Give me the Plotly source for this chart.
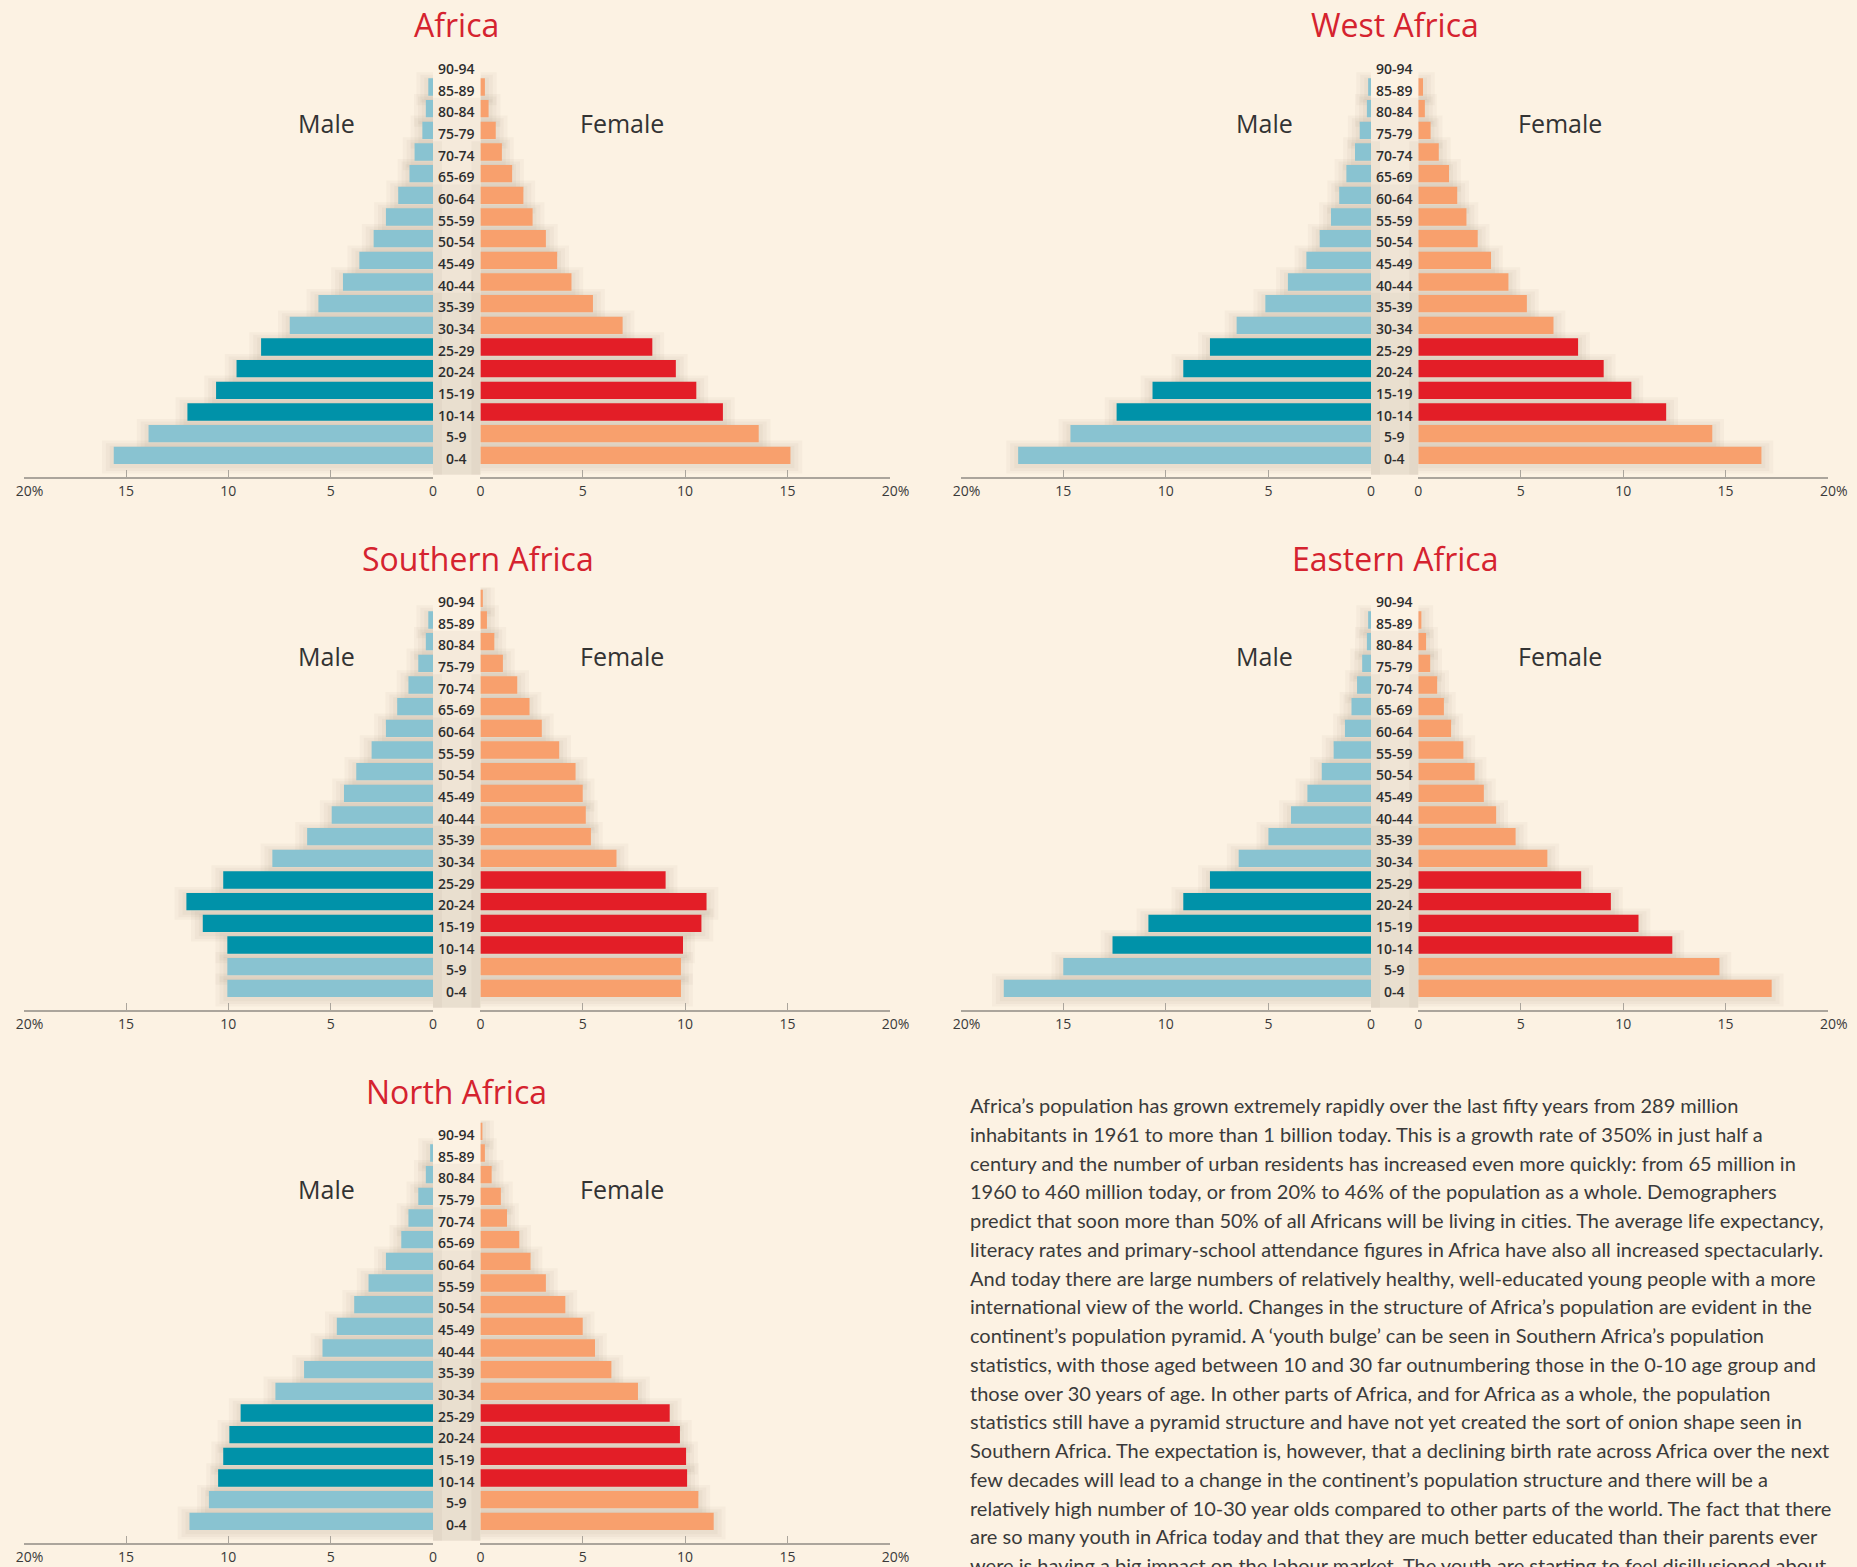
import plotly.graph_objects as go

W, H = 1857, 1567

AGES = ["0-4", "5-9", "10-14", "15-19", "20-24", "25-29", "30-34", "35-39",
        "40-44", "45-49", "50-54", "55-59", "60-64", "65-69", "70-74",
        "75-79", "80-84", "85-89", "90-94"]
HIGHLIGHT_AGES = ["10-14", "15-19", "20-24", "25-29"]

AFRICA_MALE = [15.6, 13.9, 12.0, 10.6, 9.6, 8.4, 7.0, 5.6, 4.4, 3.6, 2.9, 2.3, 1.7, 1.15, 0.9, 0.52, 0.35, 0.23, 0.0]
AFRICA_FEMALE = [15.15, 13.6, 11.85, 10.55, 9.55, 8.4, 6.95, 5.5, 4.45, 3.75, 3.2, 2.55, 2.1, 1.55, 1.05, 0.75, 0.4, 0.22, 0.0]

WEST_MALE = [17.2, 14.65, 12.4, 10.65, 9.15, 7.85, 6.55, 5.15, 4.05, 3.15, 2.5, 1.95, 1.55, 1.2, 0.78, 0.55, 0.2, 0.14, 0.0]
WEST_FEMALE = [16.75, 14.35, 12.1, 10.4, 9.05, 7.8, 6.6, 5.3, 4.4, 3.55, 2.9, 2.35, 1.9, 1.5, 1.0, 0.6, 0.32, 0.23, 0.0]

SOUTH_MALE = [10.05, 10.05, 10.05, 11.25, 12.05, 10.25, 7.85, 6.15, 4.95, 4.35, 3.75, 3.0, 2.3, 1.75, 1.2, 0.72, 0.35, 0.23, 0.0]
SOUTH_FEMALE = [9.8, 9.8, 9.9, 10.8, 11.05, 9.05, 6.65, 5.4, 5.15, 5.0, 4.65, 3.85, 3.0, 2.4, 1.8, 1.1, 0.68, 0.32, 0.12]

EAST_MALE = [17.9, 15.0, 12.6, 10.85, 9.15, 7.85, 6.45, 5.0, 3.9, 3.1, 2.4, 1.82, 1.27, 0.95, 0.68, 0.43, 0.2, 0.14, 0.0]
EAST_FEMALE = [17.25, 14.7, 12.4, 10.75, 9.4, 7.95, 6.3, 4.75, 3.8, 3.2, 2.75, 2.2, 1.6, 1.25, 0.92, 0.58, 0.38, 0.15, 0.0]

NORTH_MALE = [11.9, 10.95, 10.5, 10.25, 9.95, 9.4, 7.7, 6.3, 5.4, 4.7, 3.85, 3.15, 2.3, 1.55, 1.2, 0.72, 0.35, 0.14, 0.0]
NORTH_FEMALE = [11.4, 10.65, 10.1, 10.05, 9.75, 9.25, 7.7, 6.4, 5.6, 5.0, 4.15, 3.2, 2.45, 1.9, 1.3, 1.0, 0.55, 0.22, 0.08]

TICK_VALUES = [0, 5, 10, 15, 20]
TICK_LABELS = ["0", "5", "10", "15", "20%"]

PANEL_TITLES = ["Africa", "West Africa", "Southern Africa", "Eastern Africa", "North Africa"]
PANEL_MALE = [AFRICA_MALE, WEST_MALE, SOUTH_MALE, EAST_MALE, NORTH_MALE]
PANEL_FEMALE = [AFRICA_FEMALE, WEST_FEMALE, SOUTH_FEMALE, EAST_FEMALE, NORTH_FEMALE]

PARAGRAPH = [
    "Africa\u2019s population has grown extremely rapidly over the last fifty years from 289 million",
    "inhabitants in 1961 to more than 1 billion today. This is a growth rate of 350% in just half a",
    "century and the number of urban residents has increased even more quickly: from 65 million in",
    "1960 to 460 million today, or from 20% to 46% of the population as a whole. Demographers",
    "predict that soon more than 50% of all Africans will be living in cities. The average life expectancy,",
    "literacy rates and primary-school attendance figures in Africa have also all increased spectacularly.",
    "And today there are large numbers of relatively healthy, well-educated young people with a more",
    "international view of the world. Changes in the structure of Africa\u2019s population are evident in the",
    "continent\u2019s population pyramid. A \u2018youth bulge\u2019 can be seen in Southern Africa\u2019s population",
    "statistics, with those aged between 10 and 30 far outnumbering those in the 0-10 age group and",
    "those over 30 years of age. In other parts of Africa, and for Africa as a whole, the population",
    "statistics still have a pyramid structure and have not yet created the sort of onion shape seen in",
    "Southern Africa. The expectation is, however, that a declining birth rate across Africa over the next",
    "few decades will lead to a change in the continent\u2019s population structure and there will be a",
    "relatively high number of 10-30 year olds compared to other parts of the world. The fact that there",
    "are so many youth in Africa today and that they are much better educated than their parents ever",
    "were is having a big impact on the labour market. The youth are starting to feel disillusioned about",
]

# ---- styling / layout ----
BG = "#FCF2E3"
MALE_LIGHT, MALE_DARK = "#89C3D1", "#0092A9"
FEMALE_LIGHT, FEMALE_DARK = "#F8A06D", "#E31E27"
TITLE_RED = "#D5232F"
AXIS_GREY = "#ABA59C"
TEXT_DARK = "#2E2E2E"
SHADOW = "rgba(110,90,70,0.045)"

COLS = [(23.7, 433.0, 480.4, 889.7), (960.7, 1371.0, 1418.3, 1828.0)]
PANEL_POS = [(0, 0), (0, 1), (1, 0), (1, 1), (2, 0)]
TITLE_DX = [0, 0, 21, 0, 0]
ROW_TOP, ROW_BOT, ROW_STEP = 54.5, 477.0, 533.0
BAR_W = 0.8


def fx(p):
    return p / W


def fy(p):
    return 1 - p / H


def tick_text(t):
    # centre the number on the tick, let the "%" hang to the right
    if t.endswith("%"):
        return "<span style='color:rgba(0,0,0,0)'>%</span>" + t
    return t


fig = go.Figure()
layout = {}
annotations = []
shapes = []

male_colors = [MALE_DARK if a in HIGHLIGHT_AGES else MALE_LIGHT for a in AGES]
female_colors = [FEMALE_DARK if a in HIGHLIGHT_AGES else FEMALE_LIGHT for a in AGES]

for i in range(5):
    row, col = PANEL_POS[i]
    m0x, m1x, f0x, f1x = COLS[col]
    top = ROW_TOP + ROW_STEP * row
    bot = ROW_BOT + ROW_STEP * row
    xm = f"x{2 * i + 1}"
    xf = f"x{2 * i + 2}"
    yy = f"y{i + 1}"
    xm_key = "xaxis" if i == 0 else f"xaxis{2 * i + 1}"
    xf_key = f"xaxis{2 * i + 2}"
    y_key = "yaxis" if i == 0 else f"yaxis{i + 1}"

    # soft layered shadows behind the bars
    for xs, data in ((xm, PANEL_MALE[i]), (xf, PANEL_FEMALE[i])):
        for k in (1, 2, 3):
            ext = 0.12 * k
            w = BAR_W + 2 * ext
            fig.add_trace(go.Bar(x=[v + ext * 1.6 if v > 0 else 0 for v in data], y=AGES,
                                 orientation="h", xaxis=xs, yaxis=yy,
                                 width=w, offset=-w / 2 - 0.08,
                                 marker=dict(color=SHADOW, line=dict(width=0)),
                                 hoverinfo="skip", showlegend=False))

    fig.add_trace(go.Bar(x=PANEL_MALE[i], y=AGES, orientation="h", xaxis=xm, yaxis=yy,
                         width=BAR_W, marker=dict(color=male_colors, line=dict(width=0)),
                         name="Male", showlegend=False))
    fig.add_trace(go.Bar(x=PANEL_FEMALE[i], y=AGES, orientation="h", xaxis=xf, yaxis=yy,
                         width=BAR_W, marker=dict(color=female_colors, line=dict(width=0)),
                         name="Female", showlegend=False))

    common_x = dict(anchor=yy, tickvals=TICK_VALUES, ticktext=[tick_text(t) for t in TICK_LABELS],
                    ticks="inside", ticklen=7, tickwidth=1.3, tickcolor=AXIS_GREY,
                    showline=True, linecolor=AXIS_GREY, linewidth=1.6,
                    showgrid=False, zeroline=False, fixedrange=True, automargin=False,
                    tickfont=dict(family="Open Sans, Liberation Sans, sans-serif", size=14, color="#3A3A3A"))
    layout[xm_key] = dict(common_x, domain=[fx(m0x), fx(m1x)], range=[20, 0])
    layout[xf_key] = dict(common_x, domain=[fx(f0x), fx(f1x)], range=[0, 20])
    layout[y_key] = dict(domain=[fy(bot), fy(top)], anchor=xm, type="category",
                         categoryorder="array", categoryarray=AGES, automargin=False,
                         range=[-1.0, 18.5], visible=False, fixedrange=True)

    # shadowed gap between the two halves (behind the age labels)
    for (ya, yb, alpha) in ((-0.9, 16.5, 0.05), (-0.9, 12.5, 0.04), (-0.9, 7.5, 0.04)):
        shapes.append(dict(type="rect", xref="paper", yref=yy, layer="below",
                           x0=fx(m1x), x1=fx(f0x), y0=ya, y1=yb,
                           fillcolor=f"rgba(110,90,70,{alpha})", line=dict(width=0)))
    for (xa, xb) in ((m1x, m1x + 9), (f0x - 9, f0x)):
        shapes.append(dict(type="rect", xref="paper", yref=yy, layer="below",
                           x0=fx(xa), x1=fx(xb), y0=-0.9, y1=14.5,
                           fillcolor="rgba(110,90,70,0.05)", line=dict(width=0)))

    gap_c = (m1x + f0x) / 2
    for a in AGES:
        annotations.append(dict(x=fx(gap_c), xref="paper", y=a, yref=yy, yshift=-3,
                                text=a, showarrow=False, xanchor="center", yanchor="middle",
                                font=dict(family="Open Sans, Liberation Sans, sans-serif", size=14,
                                          color=TEXT_DARK, weight=600)))
    annotations.append(dict(x=fx(gap_c + TITLE_DX[i]), y=fy(25 + ROW_STEP * row), xref="paper", yref="paper",
                            text=PANEL_TITLES[i], showarrow=False, xanchor="center", yanchor="middle",
                            font=dict(family="Open Sans, sans-serif", size=32, color=TITLE_RED)))
    annotations.append(dict(x=fx(m1x - 106.2), y=fy(top + 68.2), xref="paper", yref="paper",
                            text="Male", showarrow=False, xanchor="center", yanchor="middle",
                            font=dict(family="Open Sans, sans-serif", size=25, color="#333333")))
    annotations.append(dict(x=fx(f0x + 141.6), y=fy(top + 68.2), xref="paper", yref="paper",
                            text="Female", showarrow=False, xanchor="center", yanchor="middle",
                            font=dict(family="Open Sans, sans-serif", size=25, color="#333333")))

for k, line in enumerate(PARAGRAPH):
    annotations.append(dict(x=fx(967.5), y=fy(1105 + 28.75 * k), xref="paper", yref="paper",
                            text=line, showarrow=False, xanchor="left", yanchor="middle",
                            font=dict(family="Lato, Liberation Sans, sans-serif", size=20, color="#3A3A3A")))

fig.update_layout(
    width=W, height=H,
    margin=dict(l=0, r=0, t=0, b=0, pad=0, autoexpand=False),
    paper_bgcolor=BG, plot_bgcolor="rgba(0,0,0,0)",
    barmode="overlay", bargap=0.2,
    showlegend=False,
    annotations=annotations,
    shapes=shapes,
    **layout,
)

fig.write_html(
    "out.html",
    config={"displayModeBar": False},
    post_script="document.body.style.margin='0';document.body.style.overflow='hidden';"
                "document.documentElement.style.overflow='hidden';",
)
